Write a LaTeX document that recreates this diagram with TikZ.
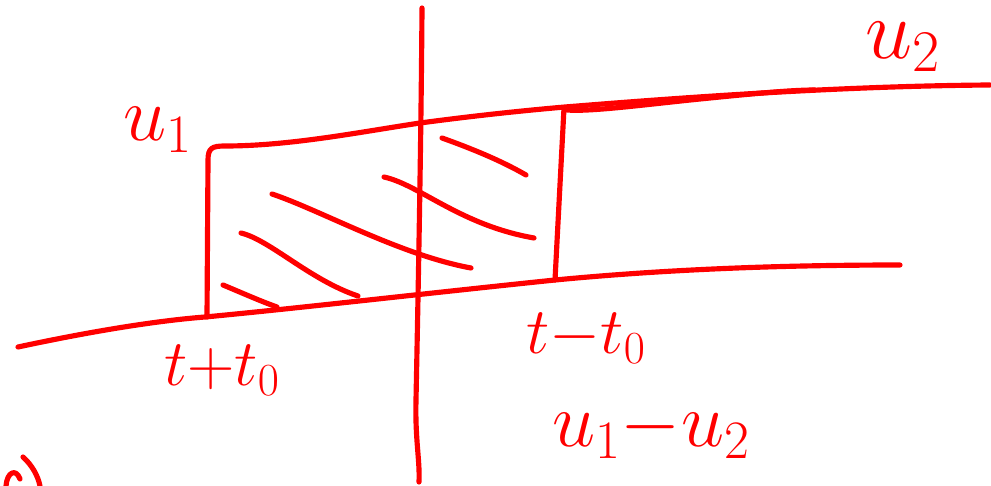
\RequirePackage{fix-cm}
\documentclass[tikz,border=0pt]{standalone}
\begin{document}
\begin{tikzpicture}[x=0.03cm,y=-0.03cm,
  pen/.style={draw=red,line width=4.4pt,line cap=round,line join=round},
  lab/.style={text=red,inner sep=0pt},
  big/.style={lab,font=\fontsize{66}{72}\selectfont},
  huge/.style={lab,font=\fontsize{72}{80}\selectfont},
  mid/.style={lab,font=\fontsize{56}{64}\selectfont}]
\useasboundingbox (0,0) rectangle (991,486);
% vertical axis
\draw[pen] (422,8) .. controls (421,150) and (418,300) .. (416,400) .. controls (415,440) and (420,460) .. (419,482);
% lower curve
\draw[pen] (18,347) .. controls (60,338) and (140,322) .. (205,317) .. controls (300,308) and (420,294) .. (555,280) .. controls (680,268) and (800,265) .. (900,265);
% upper curve with left side of box
\draw[pen] (207,317) -- (208,160) .. controls (208,148) and (212,146) .. (225,146) .. controls (290,146) and (360,132) .. (420,123) .. controls (480,115) and (530,110) .. (565,107) .. controls (700,96) and (850,86) .. (990,85);
% double stroke at the right corner
\draw[pen] (567,110) .. controls (590,112) and (650,104) .. (700,99) .. controls (750,94) and (790,90) .. (815,90);
% right side of box
\draw[pen] (555,280) -- (564,108);
% hatching
\draw[pen] (223,285) .. controls (240,292) and (260,301) .. (277,307);
\draw[pen] (241,233) .. controls (270,240) and (310,280) .. (358,296);
\draw[pen] (272,194) .. controls (320,210) and (400,255) .. (471,268);
\draw[pen] (384,177) .. controls (420,185) and (460,225) .. (534,238);
\draw[pen] (442,138) .. controls (470,148) and (500,160) .. (526,175);
% fragment at bottom left
\draw[pen] (6,486) .. controls (7,472) and (16,468) .. (20,479);
\draw[pen] (23,457) .. controls (32,465) and (38,476) .. (40,486);
% labels
\node[big] (u1) at (158,130) {$u_1$};
\node[huge] (u2) at (903,47) {$u_2$};
\node[mid] (tp) at (222,370) {$t{+}t_0$};
\node[mid] (tm) at (586,338) {$t{-}t_0$};
\node[big] (ud) at (651,430) {$u_1{-}u_2$};
\end{tikzpicture}
\end{document}
